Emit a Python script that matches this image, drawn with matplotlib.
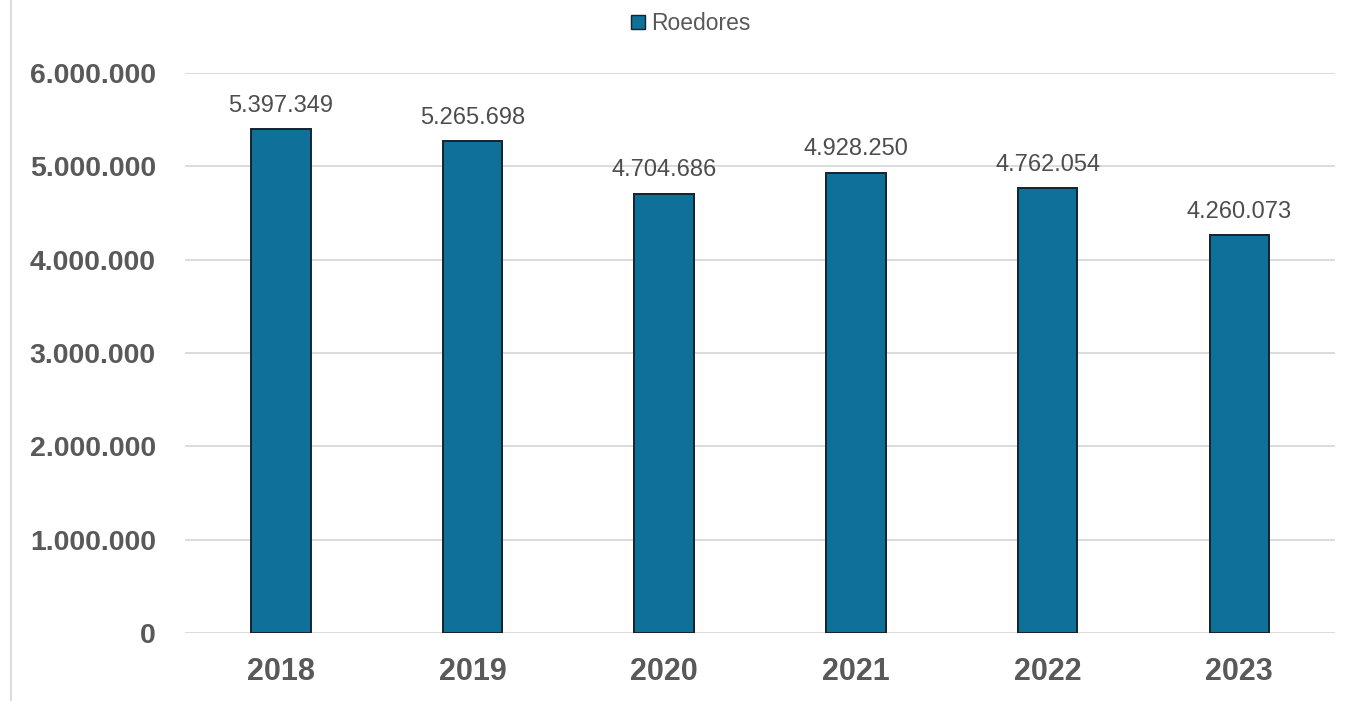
import matplotlib.pyplot as plt
import matplotlib.ticker as mticker
from matplotlib.lines import Line2D

years = ['2018', '2019', '2020', '2021', '2022', '2023']
roedores = [5397349, 5265698, 4704686, 4928250, 4762054, 4260073]
y_ticks = [0, 1000000, 2000000, 3000000, 4000000, 5000000, 6000000]


def fmt_pt(v):
    # thousands separated by dots
    return '{:,.0f}'.format(v).replace(',', '.')


plt.rcParams['font.family'] = ['Liberation Sans', 'DejaVu Sans']

fig = plt.figure(figsize=(13.5, 7.01), dpi=100)
ax = fig.add_axes([0.137, 0.097, 0.852, 0.799])

x = range(len(years))
bars = ax.bar(x, roedores, width=0.31, color='#0f7099', edgecolor='#14232e',
              linewidth=1.4, zorder=3, label='Roedores')

for b, v in zip(bars, roedores):
    ax.annotate(fmt_pt(v), (b.get_x() + b.get_width() / 2, v),
                xytext=(0, 9), textcoords='offset points',
                ha='center', va='bottom', fontsize=17, color='#4d4d4d')

ax.set_xlim(-0.5, len(years) - 0.5)
ax.set_ylim(0, 6000000)
ax.set_yticks(y_ticks)
ax.yaxis.set_major_formatter(mticker.FuncFormatter(lambda v, p: fmt_pt(v)))
ax.set_xticks(list(x))
ax.set_xticklabels(years)

ax.grid(axis='y', color='#d9d9d9', linewidth=1.3, zorder=0)
for s in ax.spines.values():
    s.set_visible(False)
ax.tick_params(axis='both', length=0)
ax.tick_params(axis='y', labelsize=20.5, labelcolor='#595959', pad=21)
ax.tick_params(axis='x', labelsize=22, labelcolor='#595959', pad=17)
for lbl in ax.get_xticklabels() + ax.get_yticklabels():
    lbl.set_fontweight('bold')

handle = Line2D([], [], marker='s', linestyle='none', markersize=10,
                markerfacecolor='#0f7099', markeredgecolor='#14232e')
fig.legend([handle], ['Roedores'], loc='center', bbox_to_anchor=(0.510, 0.966),
           frameon=False, fontsize=16.5, handlelength=1.0, handletextpad=0.1,
           labelcolor='#595959')

# thin border on the left side of the image
fig.add_artist(Line2D([0.0078, 0.0078], [0, 1], color='#dcdcdc', linewidth=1.5))

fig.savefig('out.png', dpi=100, facecolor='white')
